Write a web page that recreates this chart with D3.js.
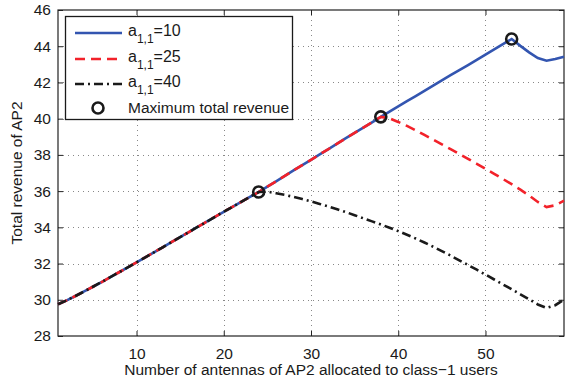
<!DOCTYPE html>
<html>
<head>
<meta charset="utf-8">
<script src="https://d3js.org/d3.v7.min.js"></script>
<style>
  body { margin: 0; background: #fff; }
  text { font-family: "Liberation Sans", Arial, sans-serif; fill: #1a1a1a; }
</style>
</head>
<body>
<script>
// antennas allocated to class-1 users
const antennas = d3.range(1, 60);
// total revenue for a11 = 10, 25, 40
const rev10 = [29.75, 29.97, 30.21, 30.46, 30.72, 30.98, 31.25, 31.52, 31.79, 32.06,
  32.34, 32.62, 32.9, 33.18, 33.46, 33.74, 34.02, 34.3, 34.58, 34.86,
  35.13, 35.41, 35.68, 35.95, 36.25, 36.54, 36.84, 37.14, 37.43, 37.73,
  38.03, 38.32, 38.62, 38.92, 39.21, 39.51, 39.8, 40.1, 40.39, 40.68,
  40.97, 41.25, 41.54, 41.83, 42.11, 42.4, 42.68, 42.96, 43.25, 43.54,
  43.82, 44.11, 44.4, 44.02, 43.66, 43.35, 43.2, 43.3, 43.42];
const rev25 = [29.75, 29.97, 30.21, 30.46, 30.72, 30.98, 31.25, 31.52, 31.79, 32.06,
  32.34, 32.62, 32.9, 33.18, 33.46, 33.74, 34.02, 34.3, 34.58, 34.86,
  35.13, 35.41, 35.68, 35.95, 36.25, 36.54, 36.84, 37.14, 37.43, 37.73,
  38.03, 38.32, 38.62, 38.92, 39.21, 39.51, 39.8, 40.1, 40.02, 39.82,
  39.6, 39.36, 39.1, 38.84, 38.58, 38.32, 38.05, 37.78, 37.51, 37.23,
  36.95, 36.67, 36.38, 36.08, 35.76, 35.4, 35.12, 35.22, 35.47];
const rev40 = [29.75, 29.97, 30.21, 30.46, 30.72, 30.98, 31.25, 31.52, 31.79, 32.06,
  32.34, 32.62, 32.9, 33.18, 33.46, 33.74, 34.02, 34.3, 34.58, 34.86,
  35.13, 35.41, 35.68, 35.95, 35.97, 35.88, 35.79, 35.68, 35.56, 35.43,
  35.29, 35.15, 35.0, 34.84, 34.67, 34.5, 34.33, 34.16, 33.98, 33.79,
  33.59, 33.38, 33.16, 32.93, 32.69, 32.44, 32.18, 31.92, 31.66, 31.39,
  31.12, 30.85, 30.58, 30.3, 30.02, 29.74, 29.55, 29.7, 30.0];
const maxX = [24, 38, 53];
const maxY = [35.95, 40.1, 44.4];
const xTicks = [10, 20, 30, 40, 50];
const yTicks = [28, 30, 32, 34, 36, 38, 40, 42, 44, 46];
const seriesNames = ["10", "25", "40"];

const W = 565, H = 381;
const m = { left: 58, right: 1, top: 10, bottom: 45 };
const fs = "15.5px";

const svg = d3.select("body").append("svg").attr("width", W).attr("height", H);

const x = d3.scaleLinear().domain([1, 59]).range([m.left, W - m.right]);
const y = d3.scaleLinear().domain([28, 46]).range([H - m.bottom, m.top]);

// grid
const grid = svg.append("g").attr("stroke", "#888").attr("stroke-width", 1)
  .attr("stroke-dasharray", "1,4");
grid.selectAll(".gx").data(xTicks).enter().append("line")
  .attr("x1", d => Math.round(x(d)) + 0.5).attr("x2", d => Math.round(x(d)) + 0.5)
  .attr("y1", y(28)).attr("y2", y(46));
grid.selectAll(".gy").data(yTicks.slice(1, -1)).enter().append("line")
  .attr("y1", d => Math.round(y(d)) + 0.5).attr("y2", d => Math.round(y(d)) + 0.5)
  .attr("x1", x(1)).attr("x2", x(59));

// axes (ticks inward, MATLAB style)
const ax = svg.append("g").attr("transform", `translate(0,${y(28)})`)
  .call(d3.axisBottom(x).tickValues(xTicks).tickSize(-5).tickPadding(12));
const axT = svg.append("g").attr("transform", `translate(0,${y(46)})`)
  .call(d3.axisTop(x).tickValues(xTicks).tickSize(-5).tickFormat(""));
const ay = svg.append("g").attr("transform", `translate(${x(1)},0)`)
  .call(d3.axisLeft(y).tickValues(yTicks).tickSize(-5).tickPadding(7));
const ayR = svg.append("g").attr("transform", `translate(${x(59)},0)`)
  .call(d3.axisRight(y).tickValues(yTicks).tickSize(-5).tickFormat(""));
[ax, axT, ay, ayR].forEach(g => {
  g.select(".domain").remove();
  g.selectAll("line").attr("stroke", "#222");
  g.selectAll("text").attr("font-size", fs)
    .attr("font-family", "'Liberation Sans', Arial, sans-serif").attr("fill", "#1a1a1a");
});

svg.append("rect").attr("x", x(1)).attr("y", y(46))
  .attr("width", x(59) - x(1)).attr("height", y(28) - y(46))
  .attr("fill", "none").attr("stroke", "#222").attr("stroke-width", 1.2);

// lines
const series = [
  { vals: rev10, color: "#3355b0", dash: null },
  { vals: rev25, color: "#f2222a", dash: "10,6" },
  { vals: rev40, color: "#1a1a1a", dash: "9,4,2,4" }
];
const line = d3.line().x(d => x(d[0])).y(d => y(d[1]));
series.forEach(s => {
  svg.append("path")
    .datum(antennas.map((a, i) => [a, s.vals[i]]))
    .attr("d", line)
    .attr("fill", "none")
    .attr("stroke", s.color)
    .attr("stroke-width", 2.6)
    .attr("stroke-dasharray", s.dash);
});

svg.selectAll(".mx").data(maxX).enter().append("circle")
  .attr("cx", d => x(d)).attr("cy", (d, i) => y(maxY[i])).attr("r", 5.5)
  .attr("fill", "none").attr("stroke", "#1a1a1a").attr("stroke-width", 2.6);

// legend
const lg = svg.append("g");
lg.append("rect").attr("x", 65.5).attr("y", 16.5).attr("width", 227).attr("height", 103)
  .attr("fill", "#fff").attr("stroke", "#1a1a1a").attr("stroke-width", 1.3);
const rows = [33, 59, 84];
series.forEach((s, i) => {
  lg.append("line").attr("x1", 75).attr("x2", 122).attr("y1", rows[i]).attr("y2", rows[i])
    .attr("stroke", s.color).attr("stroke-width", 2.6).attr("stroke-dasharray", s.dash);
  const t = lg.append("text").attr("x", 128).attr("y", rows[i] + 3).attr("font-size", "16px");
  t.append("tspan").text("a");
  t.append("tspan").attr("font-size", "12px").attr("dy", 7).text("1,1");
  t.append("tspan").attr("dy", -7).text("=" + seriesNames[i]);
});
lg.append("circle").attr("cx", 98).attr("cy", 108).attr("r", 5.5)
  .attr("fill", "none").attr("stroke", "#1a1a1a").attr("stroke-width", 2.6);
lg.append("text").attr("x", 128).attr("y", 113).attr("font-size", fs)
  .text("Maximum total revenue");

// axis labels
svg.append("text").attr("x", (x(1) + x(59)) / 2).attr("y", 375).attr("text-anchor", "middle")
  .attr("font-size", fs).text("Number of antennas of AP2 allocated to class\u22121 users");
svg.append("text").attr("transform", `translate(22,${(y(28) + y(46)) / 2}) rotate(-90)`)
  .attr("text-anchor", "middle").attr("font-size", fs).text("Total revenue of AP2");
</script>
</body>
</html>
